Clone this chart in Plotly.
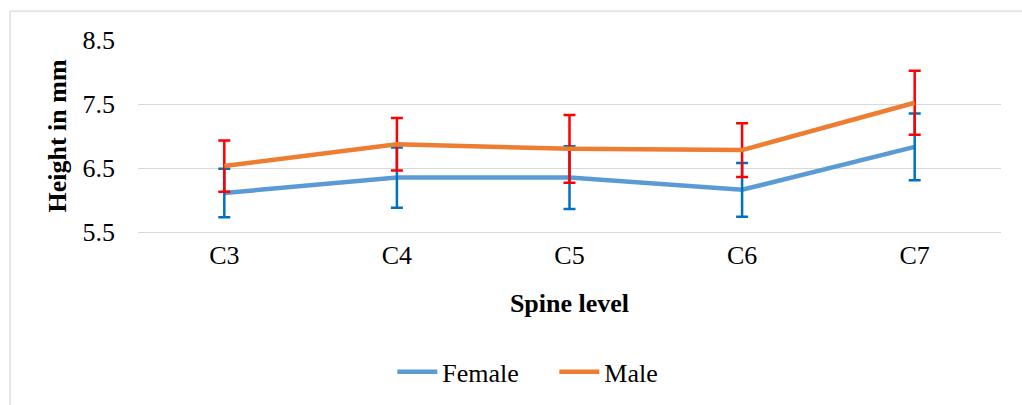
import plotly.graph_objects as go

# Cervical spine levels
levels = ["C3", "C4", "C5", "C6", "C7"]

# Mean height (mm) and standard deviation by sex
female_mean = [6.11, 6.35, 6.35, 6.16, 6.83]
female_sd = [0.38, 0.47, 0.49, 0.42, 0.52]
male_mean = [6.53, 6.87, 6.80, 6.78, 7.52]
male_sd = [0.40, 0.41, 0.53, 0.42, 0.50]

y_ticks = [5.5, 6.5, 7.5, 8.5]

FONT = "Liberation Serif, Times New Roman, serif"
FEMALE_LINE = "#5B9BD5"
MALE_LINE = "#ED7D31"
FEMALE_ERR = "#0070C0"
MALE_ERR = "#FF0000"
GRID = "#D9D9D9"

fig = go.Figure()

# Female line
fig.add_trace(go.Scatter(
    x=levels, y=female_mean, name="Female", mode="lines",
    line=dict(color=FEMALE_LINE, width=4.5),
))
# Female error bars
fig.add_trace(go.Scatter(
    x=levels, y=female_mean, mode="markers", showlegend=False,
    marker=dict(color="rgba(0,0,0,0)", size=1),
    error_y=dict(type="data", array=female_sd, color=FEMALE_ERR,
                 thickness=2.5, width=6),
    hoverinfo="skip",
))
# Male error bars
fig.add_trace(go.Scatter(
    x=levels, y=male_mean, mode="markers", showlegend=False,
    marker=dict(color="rgba(0,0,0,0)", size=1),
    error_y=dict(type="data", array=male_sd, color=MALE_ERR,
                 thickness=2.5, width=6),
    hoverinfo="skip",
))
# Male line
fig.add_trace(go.Scatter(
    x=levels, y=male_mean, name="Male", mode="lines",
    line=dict(color=MALE_LINE, width=4.5),
))

# Thin outer chart border
fig.add_shape(type="rect", xref="paper", yref="paper",
              x0=-0.1483, x1=1.05, y0=-1.2, y1=1.150,
              line=dict(color=GRID, width=1.3), layer="below")

fig.update_layout(
    width=1022, height=405,
    margin=dict(l=138, r=21, t=40, b=172),
    paper_bgcolor="white", plot_bgcolor="white",
    font=dict(family=FONT, size=26, color="black"),
    showlegend=True,
    legend=dict(orientation="h", x=0.2947, xanchor="left",
                y=-0.72, yanchor="middle",
                font=dict(family=FONT, size=26, color="black"),
                entrywidth=107, entrywidthmode="pixels",
                itemwidth=40, traceorder="normal"),
)

fig.update_xaxes(
    type="category", range=[-0.5, 4.5],
    showgrid=False, showline=True, linecolor=GRID, linewidth=1.3,
    ticks="", tickfont=dict(family=FONT, size=26),
    title=dict(text="<b>Spine level</b>", standoff=24,
               font=dict(family=FONT, size=26)),
)
fig.update_yaxes(
    range=[5.5, 8.5], tickvals=y_ticks,
    ticktext=[f"{v:.1f}" for v in y_ticks],
    showgrid=True, gridcolor=GRID, gridwidth=1.3,
    zeroline=False, showline=False, ticks="",
    ticklabelstandoff=22,
    tickfont=dict(family=FONT, size=26),
    title=dict(text="<b>Height in mm</b>", standoff=8,
               font=dict(family=FONT, size=26)),
)

fig.write_html("out.html")
